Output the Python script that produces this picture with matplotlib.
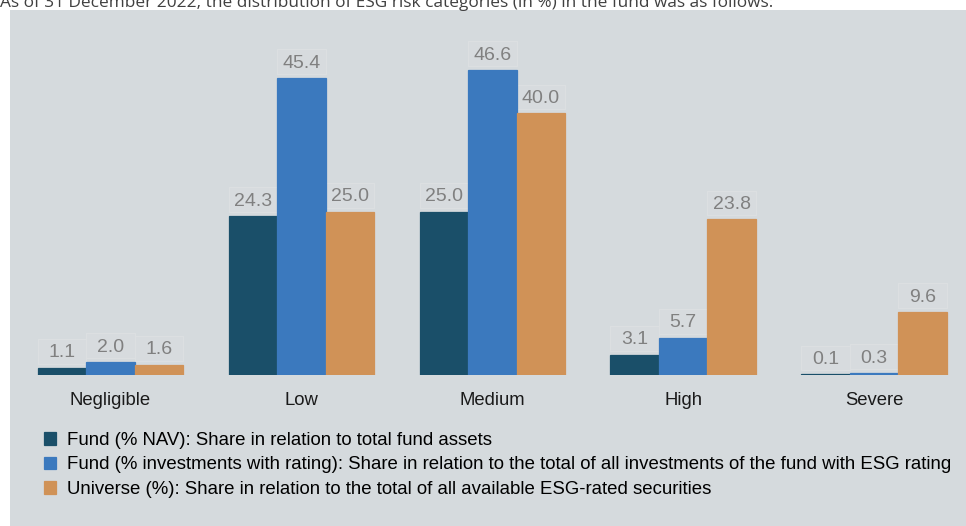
import matplotlib
matplotlib.use('Agg')
import matplotlib.pyplot as plt
from matplotlib.patches import Rectangle
import numpy as np

# data
categories = ['Negligible', 'Low', 'Medium', 'High', 'Severe']
fund_nav = [1.1, 24.3, 25.0, 3.1, 0.1]
fund_rated = [2.0, 45.4, 46.6, 5.7, 0.3]
universe = [1.6, 25.0, 40.0, 23.8, 9.6]
series_labels = ['Fund (% NAV): Share in relation to total fund assets',
                 'Fund (% investments with rating): Share in relation to the total of all investments of the fund with ESG rating',
                 'Universe (%): Share in relation to the total of all available ESG-rated securities']
colors = ['#1a4f69', '#3b79be', '#d09257']
intro = 'As of 31 December 2022, the distribution of ESG risk categories (in %) in the fund was as follows:'

plt.rcParams['font.family'] = ['Liberation Sans', 'DejaVu Sans']

W, H = 966, 526
fig = plt.figure(figsize=(W / 100, H / 100), dpi=100)
fig.patch.set_facecolor('white')
# gray panel
fig.patches.append(Rectangle((10 / W, 0), 1 - 10 / W, (H - 10) / H, transform=fig.transFigure,
                             facecolor='#d5dadd', edgecolor='none', zorder=-5))
fig.text(0, 1 - 7 / H, intro, family='Open Sans', fontsize=12.4, color='#404040', va='baseline')

ax = fig.add_axes([10 / W, (H - 375) / H, (W - 10) / W, 365 / H])
ax.patch.set_alpha(0)
ax.set_zorder(2)

x = np.arange(len(categories))
w = 0.254
bars = []
for k, vals in enumerate([fund_nav, fund_rated, universe]):
    pos = x + (k - 1) * w
    # faint label boxes
    ax.bar(pos, 3.8, w, bottom=np.array(vals) + 0.6, color='#d7dbde', edgecolor='#dde0e2',
           linewidth=0.7, zorder=1)
    b = ax.bar(pos, vals, w, color=colors[k], edgecolor=colors[k], linewidth=0.9,
               label=series_labels[k], zorder=2)
    bars.append(b)
    for xi, v in zip(pos, vals):
        ax.annotate(f'{v:.1f}', (xi, v), xytext=(0, 7.5), textcoords='offset points',
                    ha='center', va='baseline', fontsize=14, color='#808080', zorder=3)

ax.set_xlim(-0.5265, 4.4814)
ax.set_ylim(0, 365 / 6.54)
ax.set_xticks(x, categories)
ax.tick_params(axis='x', length=0, pad=12.5, labelsize=13.3, labelcolor='#1a1a1a')
ax.set_yticks([])
for s in ax.spines.values():
    s.set_visible(False)

fig.legend(handles=bars, loc='upper left', bbox_to_anchor=(44 / W, 1 - 432 / H),
           frameon=False, fontsize=13.4, handlelength=0.65, handleheight=0.65,
           handletextpad=0.6, labelspacing=0.4, borderpad=0, borderaxespad=0)

fig.savefig('out.png', dpi=100, facecolor=fig.get_facecolor())
